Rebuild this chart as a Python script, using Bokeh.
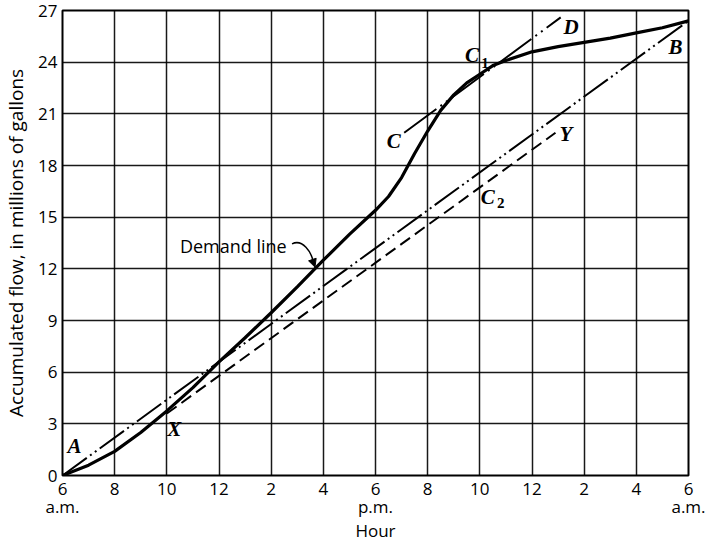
from bokeh.plotting import figure
from bokeh.models import Range1d, FixedTicker, Arrow, NormalHead, LinearAxis
from bokeh.core.properties import value
from bokeh.embed import file_html
from bokeh.resources import INLINE

# ---- data (hours after 6 a.m., millions of gallons) ----
demand_hours = [0, 1, 2, 3, 4, 5, 6, 7, 8, 9, 10, 11, 12, 12.5, 13, 13.5, 14,
                14.5, 15, 15.5, 16, 16.5, 17, 18, 19, 20, 21, 22, 23, 24]
demand_flow = [0, 0.6, 1.4, 2.5, 3.75, 5.1, 6.6, 8.0, 9.45, 10.95, 12.5, 14.0,
               15.4, 16.2, 17.3, 18.7, 20.0, 21.2, 22.1, 22.8, 23.3, 23.8, 24.1,
               24.6, 24.9, 25.15, 25.4, 25.7, 26.0, 26.4]

ab_hours = [0, 24]
ab_flow = [0, 26.4]

cd_hours = [13.1, 19.1]
cd_flow = [19.9, 26.6]

xy_hours = [4, 18.9]
xy_flow = [3.6, 19.9]

x_ticks = [0, 2, 4, 6, 8, 10, 12, 14, 16, 18, 20, 22, 24]
x_tick_labels = ["6", "8", "10", "12", "2", "4", "6", "8", "10",
                 "12", "2", "4", "6"]
period_ticks = [0, 12, 24]
period_labels = ["a.m.", "p.m.", "a.m."]
y_ticks = [0, 3, 6, 9, 12, 15, 18, 21, 24, 27]

point_names = ["A", "X", "C", "C", "D", "B", "Y", "C"]
point_x = [0.46, 4.28, 12.7, 15.7, 19.5, 23.5, 19.3, 16.3]
point_y = [1.72, 2.7, 19.4, 24.4, 26.05, 24.9, 19.85, 16.2]
sub_names = ["1", "2"]
sub_x = [16.2, 16.8]
sub_y = [23.95, 15.8]

p = figure(width=707, height=544, output_backend="svg", toolbar_location=None,
           x_range=Range1d(0, 24), y_range=Range1d(0, 27),
           min_border_left=60, min_border_right=19, min_border_top=10,
           min_border_bottom=0, background_fill_color="white",
           border_fill_color="white")

p.outline_line_color = "black"
p.outline_line_width = 2

p.add_layout(LinearAxis(), "below")
axes = [p.xaxis[0], p.xaxis[1], p.yaxis[0]]
for ax in axes:
    ax.major_tick_line_color = None
    ax.minor_tick_line_color = None
    ax.major_tick_out = 0
    ax.major_tick_in = 0
    ax.minor_tick_out = 0
    ax.minor_tick_in = 0
    ax.axis_line_color = None
    ax.major_label_text_font = "Open Sans"
    ax.major_label_text_font_size = "17px"
    ax.major_label_text_color = "black"
    ax.axis_label_text_font = "Open Sans"
    ax.axis_label_text_font_size = "17px"
    ax.axis_label_text_font_style = "normal"
    ax.axis_label_text_color = "black"

xa, xb, ya = axes
xa.ticker = FixedTicker(ticks=x_ticks)
xa.major_label_overrides = {t: l for t, l in zip(x_ticks, x_tick_labels)}
xa.major_label_standoff = 7
xb.ticker = FixedTicker(ticks=period_ticks)
xb.major_label_overrides = {t: l for t, l in zip(period_ticks, period_labels)}
xb.major_label_standoff = -3
xb.axis_label = "Hour"
xb.axis_label_standoff = -2

ya.ticker = FixedTicker(ticks=y_ticks)
ya.axis_label = "Accumulated flow, in millions of gallons"
ya.axis_label_text_font_size = "19px"
ya.major_label_standoff = 5
ya.axis_label_standoff = 6

p.xgrid.grid_line_color = "black"
p.ygrid.grid_line_color = "black"
p.xgrid.grid_line_width = 1.5
p.ygrid.grid_line_width = 1.5
p.xgrid.grid_line_alpha = 0.9
p.ygrid.grid_line_alpha = 0.9

# lines
p.line(ab_hours, ab_flow, line_color="black", line_width=2,
       line_dash="30 4 2 4 2 4")
p.line(cd_hours, cd_flow, line_color="black", line_width=2,
       line_dash="40 5 2 5 2 5")
p.line(xy_hours, xy_flow, line_color="black", line_width=2, line_dash="12 6")
p.line(demand_hours, demand_flow, line_color="black", line_width=3.2)

# point labels
p.text(point_x, point_y, text=point_names, text_font=value("Liberation Serif"),
       text_font_style="bold italic", text_font_size="21px",
       text_align="center", text_baseline="middle", text_color="black")
p.text(sub_x, sub_y, text=sub_names, text_font=value("Liberation Serif"),
       text_font_style="bold", text_font_size="15px",
       text_align="center", text_baseline="middle", text_color="black")

# "Demand line" annotation
p.text([4.5], [13.3], text=["Demand line"], text_font=value("Open Sans"),
       text_font_size="18px", text_align="left", text_baseline="middle",
       text_color="black")
p.bezier(x0=[8.8], y0=[13.45], x1=[9.62], y1=[12.35],
         cx0=[9.2], cy0=[13.75], cx1=[9.55], cy1=[13.0],
         line_color="black", line_width=1.5)
p.add_layout(Arrow(end=NormalHead(size=8, fill_color="black",
                                  line_color="black"),
                   x_start=9.6, y_start=12.45, x_end=9.68, y_end=12.1,
                   line_color="black", line_width=1.5))

html = file_html(p, INLINE)
open("out.html", "w").write(html)
